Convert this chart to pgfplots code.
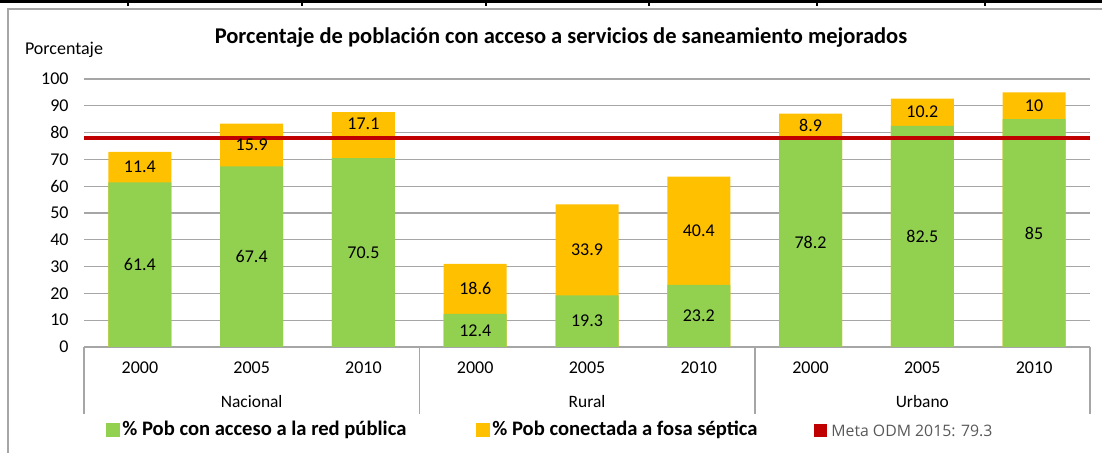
\documentclass[border=0pt]{standalone}
\usepackage{pgfplots}
\pgfplotsset{compat=1.18}
\usepackage{fontspec}
\setmainfont{Carlito}
\newfontfamily\metafont{Open Sans}
\definecolor{cgreen}{HTML}{92D050}
\definecolor{corange}{HTML}{FFC000}
\definecolor{cred}{HTML}{C00000}
\definecolor{cgrid}{HTML}{A6A6A6}
\definecolor{cmeta}{HTML}{595959}
\pgfplotstableread{
x total green
0 72.8 61.4
1 83.3 67.4
2 87.6 70.5
3 31.0 12.4
4 53.2 19.3
5 63.6 23.2
6 87.1 78.2
7 92.7 82.5
8 95.0 85
}\bars
\pgfplotstableread{
x y lab
0 30.7 61.4
1 33.7 67.4
2 35.25 70.5
3 6.2 12.4
4 9.65 19.3
5 11.6 23.2
6 39.1 78.2
7 41.25 82.5
8 42.5 85
0 67.1 11.4
1 75.35 15.9
2 83.3 17.1
3 21.7 18.6
4 36.25 33.9
5 43.4 40.4
6 82.65 8.9
7 87.6 10.2
8 90.0 10
}\labels
\begin{document}
\begin{tikzpicture}
\begin{scope}[x=0.5pt,y=0.5pt]
\useasboundingbox (0,0) rectangle (1102,453);
% frame and top strip
\draw[cgrid, line width=0.8pt] (8,0) -- (8,444) -- (1102,444);
\draw[black, line width=1.6pt] (0,451.5) -- (1102,451.5);
\foreach \xx in {128,302,486,649,817,985} \draw[black,line width=1pt] (\xx,453)--(\xx,447);
\end{scope}
\begin{axis}[
 at={(42pt,53pt)}, anchor=south west,
 scale only axis, width=503pt, height=134pt,
 xmin=-0.5, xmax=8.5, ymin=0, ymax=100,
 ytick={0,10,...,100},
 xtick={0,...,8}, xticklabels={2000,2005,2010,2000,2005,2010,2000,2005,2010},
 major tick length=0pt,
 ymajorgrids, grid style={cgrid, line width=0.6pt},
 axis x line*=bottom, axis y line*=left,
 x axis line style={cgrid, line width=0.8pt, -},
 y axis line style={draw=none},
 tick label style={font=\fontsize{9}{10}\selectfont},
 yticklabel style={anchor=east, inner sep=0pt, xshift=-7.5pt},
 xticklabel style={anchor=center, inner sep=0pt, yshift=-10.5pt},
 /pgf/number format/assume math mode=true,
 bar width=31.5pt,
 clip=false,
]
\addplot[ybar, bar shift=0pt, fill=corange, draw=none] table[x=x, y=total] {\bars};
\addplot[ybar, bar shift=0pt, fill=cgreen, draw=none] table[x=x, y=green] {\bars};
\addplot[cred, line width=2pt] coordinates {(-0.5,78) (8.5,78)};
\addplot[draw=none, nodes near coords, point meta=explicit symbolic,
  nodes near coords align=center,
  every node near coord/.append style={font=\fontsize{9}{10}\selectfont, text=black, anchor=center, inner sep=0pt}]
  table[x=x, y=y, meta=lab] {\labels};
\end{axis}
\begin{scope}[x=0.5pt,y=0.5pt]
% category group separators
\foreach \xx in {84,419.3,754.7,1090} \draw[cgrid, line width=0.8pt] (\xx,106) -- (\xx,39);
\node[font=\fontsize{8.7}{9}\selectfont] at (251.7,51) {Nacional};
\node[font=\fontsize{8.7}{9}\selectfont] at (587,51) {Rural};
\node[font=\fontsize{8.7}{9}\selectfont] at (922.3,51) {Urbano};
% titles
\node[font=\bfseries\fontsize{11.25}{12}\selectfont] at (561,415) {Porcentaje de población con acceso a servicios de saneamiento mejorados};
\node[font=\fontsize{9}{10}\selectfont] at (64,403) {Porcentaje};
% legend
\fill[cgreen] (106,16) rectangle (120,30);
\node[anchor=west, inner sep=0pt, font=\bfseries\fontsize{10.3}{11}\selectfont] at (122,23) {\% Pob con acceso a la red pública};
\fill[corange] (476,16) rectangle (490,30);
\node[anchor=west, inner sep=0pt, font=\bfseries\fontsize{10.3}{11}\selectfont] at (492,23) {\% Pob conectada a fosa séptica};
\fill[cred] (814,16) rectangle (827,29);
\node[anchor=west, inner sep=0pt, text=cmeta, font=\metafont\fontsize{7.9}{9}\selectfont] at (831,22) {Meta ODM 2015: 79.3};
\end{scope}
\end{tikzpicture}
\end{document}
